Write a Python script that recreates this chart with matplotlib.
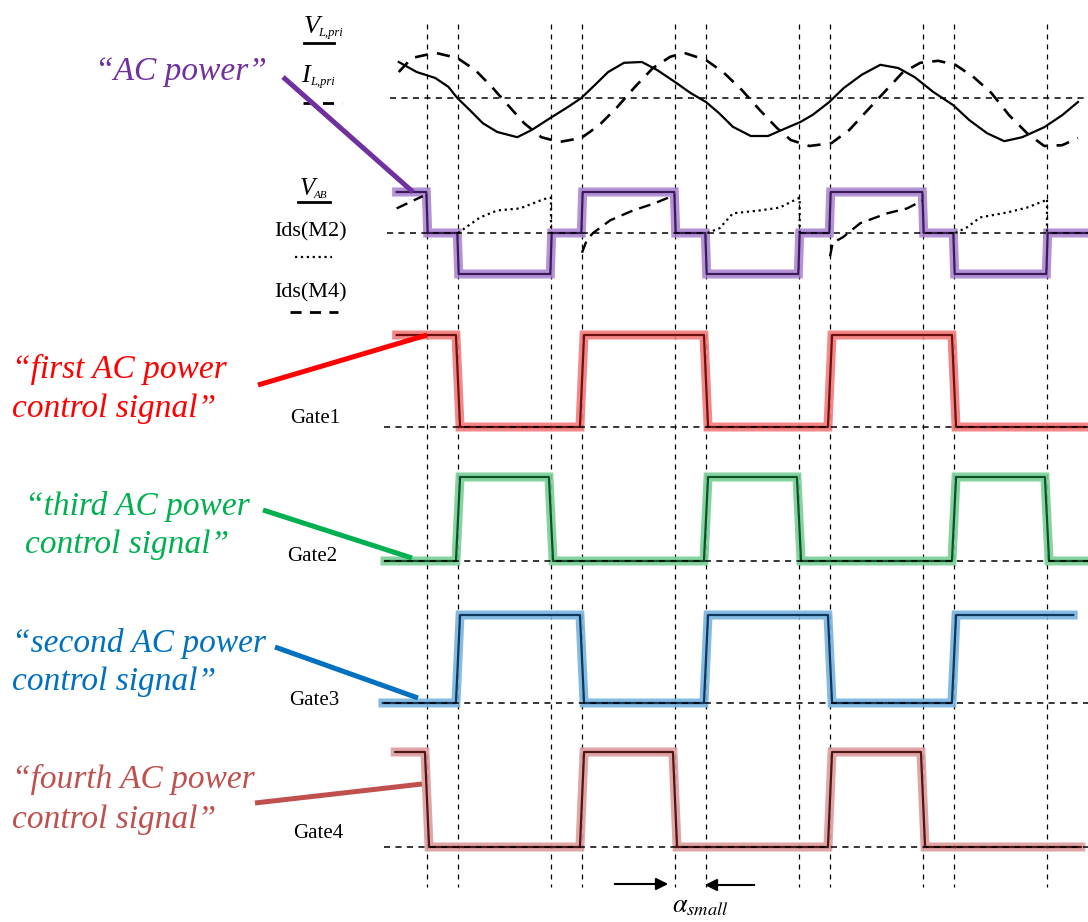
import numpy as np
import matplotlib.pyplot as plt

plt.rcParams['font.family'] = ['Liberation Serif', 'DejaVu Serif']
plt.rcParams['mathtext.fontset'] = 'stix'

W, H = 1088, 922

# switching instants (phase angle, deg) marked by the vertical dashed lines
switch_deg = [0, 45, 180, 225, 360, 405, 540, 585, 720, 765, 900]

# primary voltage (solid) and primary current (dashed), normalised
v_pri_deg = [-41, -15, 12, 31, 44, 62, 81, 102, 131, 152, 179, 205, 224, 244,
             263, 286, 312, 334, 360, 383, 405, 424, 444, 470, 495, 515, 542,
             560, 584, 605, 631, 658, 684, 708, 735, 764, 787, 813, 838, 864,
             896, 922, 945]
v_pri = [0.9, 0.65, 0.5, 0.28, 0.0, -0.3, -0.63, -0.85, -0.98, -0.8, -0.5,
         -0.22, 0.0, 0.33, 0.65, 0.88, 0.9, 0.7, 0.4, 0.12, -0.1, -0.38, -0.72,
         -0.95, -0.95, -0.8, -0.6, -0.42, -0.1, 0.25, 0.58, 0.83, 0.75, 0.52,
         0.15, -0.18, -0.55, -0.88, -1.08, -0.98, -0.73, -0.43, -0.1]
i_pri_deg = [-41, -22, 12, 44, 70, 94, 115, 141, 166, 192, 224, 250, 276, 302,
             328, 353, 373, 405, 431, 457, 483, 508, 528, 555, 587, 613, 637,
             663, 690, 716, 742, 767, 793, 819, 845, 871, 896, 922, 945]
i_pri = [0.65, 1.0, 1.13, 1.0, 0.7, 0.28, -0.13, -0.63, -0.98, -1.1, -1.0,
         -0.68, -0.23, 0.28, 0.75, 1.03, 1.13, 0.95, 0.63, 0.2, -0.3, -0.75,
         -1.05, -1.2, -1.13, -0.8, -0.35, 0.13, 0.63, 0.88, 0.93, 0.83, 0.53,
         0.13, -0.43, -0.88, -1.2, -1.18, -1.0]

# V_AB three-level waveform
vab_t = [-44, 0, 45, 180, 225, 360, 405, 540, 585, 720, 765, 900, 960]
vab_lv = [1, 0, -1, 0, 1, 0, -1, 0, 1, 0, -1, 0]

# switch currents (relative to V_AB scale)
ids_m2_deg = [[45, 77, 102, 135, 164, 176, 180, 180],
              [407, 425, 444, 483, 512, 537, 541, 541],
              [767, 784, 803, 842, 871, 897, 900, 900]]
ids_m2 = [[0.0, 0.38, 0.55, 0.6, 0.79, 0.86, 0.86, 0.0],
          [0.0, 0.12, 0.48, 0.55, 0.62, 0.83, 0.86, 0.0],
          [0.0, 0.14, 0.38, 0.5, 0.62, 0.79, 0.83, 0.0]]
ids_m4_deg = [[-44, -15, -6],
              [225, 232, 241, 266, 299, 328, 356],
              [585, 589, 604, 629, 668, 697, 719]]
ids_m4 = [[0.6, 0.83, 0.9],
          [-0.48, -0.17, 0.0, 0.31, 0.55, 0.71, 0.9],
          [-0.57, -0.24, -0.1, 0.24, 0.48, 0.6, 0.79]]

# gate signals: change instants and levels between them
gate1_t = [-44, 45, 225, 405, 585, 765, 955]
gate1_lv = [1, 0, 1, 0, 1, 0]
gate2_t = [-61, 45, 180, 405, 540, 765, 900, 960]
gate2_lv = [0, 1, 0, 1, 0, 1, 0]
gate3_t = [-64, 45, 225, 405, 585, 765, 938]
gate3_lv = [0, 1, 0, 1, 0, 1]
gate4_t = [-46, 0, 225, 360, 585, 720, 949]
gate4_lv = [1, 0, 1, 0, 1, 0]

gate_names = ['Gate1', 'Gate2', 'Gate3', 'Gate4']


def steps(t, lv, edge=3):
    xs, ys = [t[0]], [lv[0]]
    for k in range(1, len(lv)):
        xs += [t[k] - edge, t[k] + edge]
        ys += [lv[k - 1], lv[k]]
    xs.append(t[-1])
    ys.append(lv[-1])
    return np.array(xs, float), np.array(ys, float)


fig = plt.figure(figsize=(W / 100, H / 100), dpi=100)

# waveform axes: x in degrees, y in pixel rows
px_per_deg = 248 / 360
x0 = 427
ax = fig.add_axes([0, 0, 1, 1])
ax.set_xlim(-x0 / px_per_deg, (W - x0) / px_per_deg)
ax.set_ylim(H, 0)
ax.axis('off')

# annotation axes in pixel coords
ann = fig.add_axes([0, 0, 1, 1])
ann.set_xlim(0, W)
ann.set_ylim(H, 0)
ann.axis('off')
ann.patch.set_alpha(0)

for s in switch_deg:
    ax.plot([s, s], [24, 887], color='black', lw=0.9, ls=(0, (4, 4)))

# rows: (baseline px, amplitude px)
row_sine = (98, 40)
row_vab = (233, 41)
gate_rows = [(427, 92), (561, 84), (703, 88), (847, 95)]

for y0, xl in [(row_sine[0], 390), (row_vab[0], 387)] + [(g[0], 384) for g in gate_rows]:
    ann.plot([xl, W], [y0, y0], color='black', lw=1.1, ls=(0, (4, 3.5)))

# sine waves
ax.plot(v_pri_deg, row_sine[0] - np.array(v_pri) * row_sine[1], color='black', lw=1.6)
ax.plot(i_pri_deg, row_sine[0] - np.array(i_pri) * row_sine[1], color='black',
        lw=1.9, dashes=(5, 3.5))

# V_AB
vx, vy = steps(vab_t, vab_lv, edge=1)
vy = row_vab[0] - vy * row_vab[1]
ax.plot(vx, vy, color='#a77fcf', lw=6.5, alpha=0.85, solid_joinstyle='miter')
ax.plot(vx, vy, color='#3b1a5a', lw=1.6)

for tx, ty in zip(ids_m2_deg, ids_m2):
    ax.plot(tx, row_vab[0] - np.array(ty) * row_vab[1], color='black', lw=1.6, ls=':')
for tx, ty in zip(ids_m4_deg, ids_m4):
    ax.plot(tx, row_vab[0] - np.array(ty) * row_vab[1], color='black', lw=1.7,
            dashes=(5, 3))

# gates
gates = [(gate1_t, gate1_lv), (gate2_t, gate2_lv), (gate3_t, gate3_lv), (gate4_t, gate4_lv)]
light = ['#f37b7b', '#79cf98', '#78b4e0', '#dc9c9b']
dark = ['#6e1010', '#0e5226', '#10365a', '#4f1616']
for (t, lv), (y0, amp), lc, dc in zip(gates, gate_rows, light, dark):
    gx, gy = steps(t, lv)
    gy = y0 - gy * amp
    ax.plot(gx, gy, color=lc, lw=6.5, alpha=0.9, solid_joinstyle='miter')
    ax.plot(gx, gy, color=dc, lw=1.6)

# left labels
gate_lbl_pos = [(290, 423), (287, 561), (289, 705), (293, 838)]
for name, (lx, ly) in zip(gate_names, gate_lbl_pos):
    ann.text(lx, ly, name, fontsize=15, va='baseline', ha='left')

ann.text(304, 33, 'V', fontsize=19, style='italic', va='baseline')
ann.text(318, 36, 'L,pri', fontsize=9, style='italic', va='baseline')
ann.plot([304, 334], [43, 43], color='black', lw=2)
ann.text(301, 82, 'I', fontsize=19, style='italic', va='baseline')
ann.text(310, 85, 'L,pri', fontsize=9, style='italic', va='baseline')
ann.plot([303, 342], [103, 103], color='black', lw=2, dashes=(4, 3))
ann.text(300, 195, 'V', fontsize=18, style='italic', va='baseline')
ann.text(314, 198, 'AB', fontsize=8, style='italic', va='baseline')
ann.plot([298, 330], [202, 202], color='black', lw=2)
ann.text(274, 236, 'Ids(M2)', fontsize=16, va='baseline')
ann.plot([295, 332], [257, 257], color='black', lw=1.6, ls=':')
ann.text(274, 297, 'Ids(M4)', fontsize=16, va='baseline')
ann.plot([290, 338], [312, 312], color='black', lw=2, dashes=(4, 3))

# callouts
callouts = [
    (['\u201cAC power\u201d'], [(95, 80)], '#7030a0', (283, 77), (413, 192)),
    (['\u201cfirst AC power', 'control signal\u201d'], [(12, 378), (12, 417)],
     '#ff0000', (258, 385), (427, 335)),
    (['\u201cthird AC power', 'control signal\u201d'], [(25, 515), (25, 553)],
     '#00b050', (263, 510), (412, 558)),
    (['\u201csecond AC power', 'control signal\u201d'], [(12, 652), (12, 690)],
     '#0070c0', (275, 647), (418, 698)),
    (['\u201cfourth AC power', 'control signal\u201d'], [(12, 788), (12, 828)],
     '#c0504d', (255, 803), (422, 784)),
]
for lines, pos, col, p0, p1 in callouts:
    for txt, (tx, ty) in zip(lines, pos):
        ann.text(tx, ty, txt, color=col, fontsize=24, style='italic', va='baseline')
    ann.plot([p0[0], p1[0]], [p0[1], p1[1]], color=col, lw=3.6, solid_capstyle='butt')

# alpha_small marker
ann.annotate('', xy=(671, 884), xytext=(612, 884),
             arrowprops=dict(arrowstyle='-|>', color='black', lw=1.5, mutation_scale=18))
ann.annotate('', xy=(702, 885), xytext=(757, 885),
             arrowprops=dict(arrowstyle='-|>', color='black', lw=1.5, mutation_scale=18))
ann.text(700, 912, r'$\alpha_{small}$', fontsize=19, ha='center', va='baseline')

fig.savefig('out.png', dpi=100)
